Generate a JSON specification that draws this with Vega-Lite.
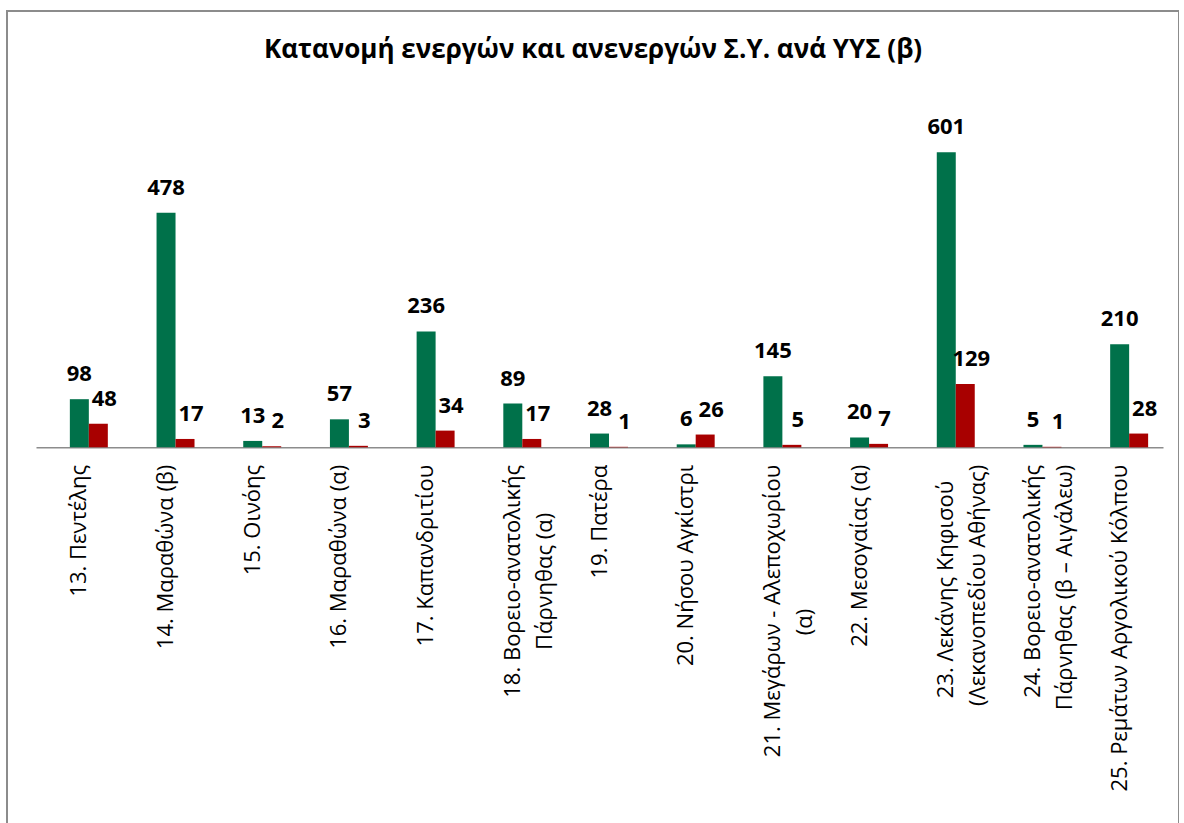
{
  "$schema": "https://vega.github.io/schema/vega-lite/v6.json",
  "width": 1172,
  "height": 829,
  "autosize": {"type": "none"},
  "padding": {"left": 7, "top": 11, "right": 0, "bottom": 0},
  "background": "white",
  "config": {
    "view": {"stroke": "#8c8c8c", "strokeWidth": 2},
    "font": "Open Sans"
  },
  "title": {
    "text": "Κατανομή ενεργών και ανενεργών Σ.Υ. ανά ΥΥΣ (β)",
    "anchor": "middle",
    "frame": "group",
    "offset": -73,
    "baseline": "alphabetic",
    "font": "Open Sans",
    "fontSize": 26,
    "fontWeight": "bold",
    "color": "#000000"
  },
  "data": {
    "values": [
      {"ΥΥΣ": "13. Πεντέλης", "Κατάσταση": "Ενεργά", "Πλήθος": 98},
      {"ΥΥΣ": "13. Πεντέλης", "Κατάσταση": "Ανενεργά", "Πλήθος": 48},
      {"ΥΥΣ": "14. Μαραθώνα (β)", "Κατάσταση": "Ενεργά", "Πλήθος": 478},
      {"ΥΥΣ": "14. Μαραθώνα (β)", "Κατάσταση": "Ανενεργά", "Πλήθος": 17},
      {"ΥΥΣ": "15. Οινόης", "Κατάσταση": "Ενεργά", "Πλήθος": 13},
      {"ΥΥΣ": "15. Οινόης", "Κατάσταση": "Ανενεργά", "Πλήθος": 2},
      {"ΥΥΣ": "16. Μαραθώνα (α)", "Κατάσταση": "Ενεργά", "Πλήθος": 57},
      {"ΥΥΣ": "16. Μαραθώνα (α)", "Κατάσταση": "Ανενεργά", "Πλήθος": 3},
      {"ΥΥΣ": "17. Καπανδριτίου", "Κατάσταση": "Ενεργά", "Πλήθος": 236},
      {"ΥΥΣ": "17. Καπανδριτίου", "Κατάσταση": "Ανενεργά", "Πλήθος": 34},
      {"ΥΥΣ": "18. Βορειο-ανατολικής|Πάρνηθας (α)", "Κατάσταση": "Ενεργά", "Πλήθος": 89},
      {"ΥΥΣ": "18. Βορειο-ανατολικής|Πάρνηθας (α)", "Κατάσταση": "Ανενεργά", "Πλήθος": 17},
      {"ΥΥΣ": "19. Πατέρα", "Κατάσταση": "Ενεργά", "Πλήθος": 28},
      {"ΥΥΣ": "19. Πατέρα", "Κατάσταση": "Ανενεργά", "Πλήθος": 1},
      {"ΥΥΣ": "20. Νήσου Αγκίστρι", "Κατάσταση": "Ενεργά", "Πλήθος": 6},
      {"ΥΥΣ": "20. Νήσου Αγκίστρι", "Κατάσταση": "Ανενεργά", "Πλήθος": 26},
      {"ΥΥΣ": "21. Μεγάρων - Αλεποχωρίου|(α)", "Κατάσταση": "Ενεργά", "Πλήθος": 145},
      {"ΥΥΣ": "21. Μεγάρων - Αλεποχωρίου|(α)", "Κατάσταση": "Ανενεργά", "Πλήθος": 5},
      {"ΥΥΣ": "22. Μεσογαίας (α)", "Κατάσταση": "Ενεργά", "Πλήθος": 20},
      {"ΥΥΣ": "22. Μεσογαίας (α)", "Κατάσταση": "Ανενεργά", "Πλήθος": 7},
      {"ΥΥΣ": "23. Λεκάνης Κηφισού|(Λεκανοπεδίου Αθήνας)", "Κατάσταση": "Ενεργά", "Πλήθος": 601},
      {"ΥΥΣ": "23. Λεκάνης Κηφισού|(Λεκανοπεδίου Αθήνας)", "Κατάσταση": "Ανενεργά", "Πλήθος": 129},
      {"ΥΥΣ": "24. Βορειο-ανατολικής|Πάρνηθας (β – Αιγάλεω)", "Κατάσταση": "Ενεργά", "Πλήθος": 5},
      {"ΥΥΣ": "24. Βορειο-ανατολικής|Πάρνηθας (β – Αιγάλεω)", "Κατάσταση": "Ανενεργά", "Πλήθος": 1},
      {"ΥΥΣ": "25. Ρεμάτων Αργολικού Κόλπου", "Κατάσταση": "Ενεργά", "Πλήθος": 210},
      {"ΥΥΣ": "25. Ρεμάτων Αργολικού Κόλπου", "Κατάσταση": "Ανενεργά", "Πλήθος": 28}
    ]
  },
  "encoding": {
    "x": {
      "field": "ΥΥΣ",
      "type": "nominal",
      "sort": null,
      "scale": {"range": [29, 1156], "paddingInner": 0.343, "paddingOuter": 0.1715},
      "axis": {
        "title": null,
        "offset": -392.7,
        "domainColor": "#8c8c8c",
        "domainWidth": 1.5,
        "ticks": false,
        "labelAngle": -90,
        "labelPadding": 17,
        "labelFont": "Open Sans",
        "labelFontSize": 22,
        "labelColor": "#000000",
        "labelLimit": 600,
        "labelOverlap": false,
        "labelLineHeight": 32,
        "labelExpr": "length(split(datum.label, '|')) < 2 ? datum.label : [pad(split(datum.label, '|')[0], length(split(datum.label, '|')[0]) + max(0, floor((length(split(datum.label, '|')[1]) - length(split(datum.label, '|')[0])) * 0.42 + 0.2)), '\u2800'), pad(split(datum.label, '|')[1], length(split(datum.label, '|')[1]) + max(0, floor((length(split(datum.label, '|')[0]) - length(split(datum.label, '|')[1])) * 0.42 + 0.2)), '\u2800')]"
      }
    },
    "xOffset": {
      "field": "Κατάσταση",
      "type": "nominal",
      "scale": {"domain": ["κενό", "Ενεργά", "Ανενεργά"], "paddingInner": 0, "paddingOuter": 0}
    },
    "y": {
      "field": "Πλήθος",
      "type": "quantitative",
      "scale": {"domain": [0, 700], "range": [436.3, 92.7], "nice": false, "zero": true},
      "axis": null
    }
  },
  "layer": [
    {
      "mark": {"type": "bar"},
      "encoding": {
        "color": {
          "field": "Κατάσταση",
          "type": "nominal",
          "scale": {"domain": ["Ενεργά", "Ανενεργά"], "range": ["#00714A", "#A80000"]},
          "legend": null
        }
      }
    },
    {
      "transform": [{"filter": "datum['Κατάσταση'] === 'Ενεργά'"}],
      "mark": {"type": "text", "font": "Open Sans", "fontWeight": "bold", "fontSize": 22, "baseline": "alphabetic", "dy": -18, "color": "#000000"},
      "encoding": {"text": {"field": "Πλήθος", "type": "quantitative"}}
    },
    {
      "transform": [{"filter": "datum['Κατάσταση'] === 'Ανενεργά'"}],
      "mark": {"type": "text", "font": "Open Sans", "fontWeight": "bold", "fontSize": 22, "baseline": "alphabetic", "dy": -18, "dx": 6, "color": "#000000"},
      "encoding": {"text": {"field": "Πλήθος", "type": "quantitative"}}
    }
  ]
}
